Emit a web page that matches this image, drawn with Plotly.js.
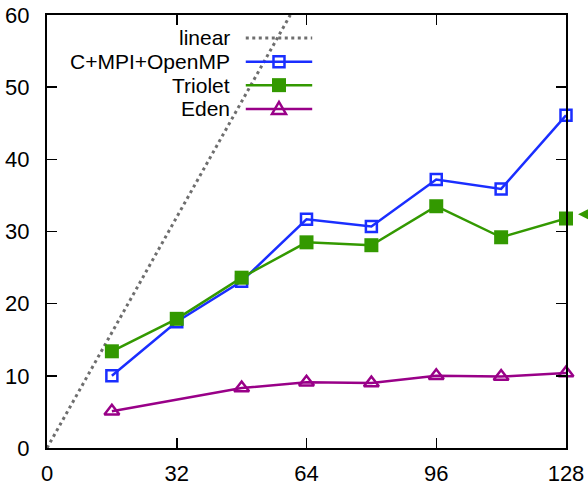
<!DOCTYPE html>
<html>
<head>
<meta charset="utf-8">
<script src="https://cdn.plot.ly/plotly-3.0.1.min.js"></script>
<style>html,body{margin:0;padding:0;background:#fff;}#chart{width:588px;height:485px;}</style>
</head>
<body>
<div id="chart"></div>
<script>
// ---- data ----
const seriesNames = ["linear", "C+MPI+OpenMP", "Triolet", "Eden"];
const linearX = [0, 60];
const linearY = [0, 60];
const coresX = [16, 32, 48, 64, 80, 96, 112, 128];
const mpiY = [10.0, 17.5, 23.1, 31.7, 30.7, 37.2, 35.9, 46.1];
const trioletY = [13.4, 17.9, 23.6, 28.5, 28.1, 33.5, 29.2, 31.8];
const edenX = [16, 48, 64, 80, 96, 112, 128];
const edenY = [5.1, 8.3, 9.1, 9.0, 10.0, 9.9, 10.4];
const pointerX = [133.2];
const pointerY = [32.4];
const xTicks = [0, 32, 64, 96, 128];
const yTicks = [0, 10, 20, 30, 40, 50, 60];
const xRange = [0, 128];
const yRange = [0, 60];

const cLinear = "#6e6e6e", cMpi = "#1a2eff", cTri = "#339900", cEden = "#990088";
const font = "Liberation Sans, Arial, Helvetica, sans-serif";
const fs = 21;

const traces = [
  {x: linearX, y: linearY, mode: "lines", name: seriesNames[0],
   line: {color: cLinear, width: 3, dash: "3px,3.5px"}},
  {x: coresX, y: mpiY, mode: "lines+markers", name: seriesNames[1], cliponaxis: false,
   line: {color: cMpi, width: 2.5},
   marker: {symbol: "square-open", size: 11, color: cMpi, line: {width: 2.5, color: cMpi}}},
  {x: coresX, y: trioletY, mode: "lines+markers", name: seriesNames[2], cliponaxis: false,
   line: {color: cTri, width: 2.5},
   marker: {symbol: "square", size: 14, color: cTri}},
  {x: edenX, y: edenY, mode: "lines+markers", name: seriesNames[3], cliponaxis: false,
   line: {color: cEden, width: 2.5},
   marker: {symbol: "triangle-up-open", size: 13, color: cEden, line: {width: 2.5, color: cEden}}}
];

// custom gnuplot-style key: text right-aligned, sample on the right
const keyTextX = 0.357, keyL = 0.383, keyR = 0.511, keyM = 0.447;
const keyRows = [0.947, 0.892, 0.838, 0.783];
const keyColors = [cLinear, cMpi, cTri, cEden];
const annotations = seriesNames.map((n, i) => ({
  xref: "paper", yref: "paper", x: keyTextX, y: keyRows[i], xanchor: "right", yanchor: "middle",
  text: n, showarrow: false, font: {family: font, size: fs, color: "#000"}
}));
const shapes = [];
seriesNames.forEach((n, i) => {
  shapes.push({type: "line", xref: "paper", yref: "paper", x0: keyL, x1: keyR, y0: keyRows[i], y1: keyRows[i],
    line: {color: keyColors[i], width: i === 0 ? 3 : 2.5, dash: i === 0 ? "3px,3.5px" : "solid"}});
});
shapes.push({type: "rect", xref: "paper", yref: "paper", xsizemode: "pixel", ysizemode: "pixel",
  xanchor: keyM, yanchor: keyRows[1], x0: -5.5, x1: 5.5, y0: -5.5, y1: 5.5,
  line: {color: cMpi, width: 2.5}, fillcolor: "rgba(0,0,0,0)"});
shapes.push({type: "rect", xref: "paper", yref: "paper", xsizemode: "pixel", ysizemode: "pixel",
  xanchor: keyM, yanchor: keyRows[2], x0: -7, x1: 7, y0: -7, y1: 7,
  line: {color: cTri, width: 0}, fillcolor: cTri});
shapes.push({type: "path", xref: "paper", yref: "paper", xsizemode: "pixel", ysizemode: "pixel",
  xanchor: keyM, yanchor: keyRows[3], path: "M -7,-5 L 7,-5 L 0,7 Z",
  line: {color: cEden, width: 2.5}, fillcolor: "rgba(0,0,0,0)"});
// pointer marker beyond the right edge of the axes (x converted to paper, since it lies outside the x range)
pointerX.forEach((px, i) => shapes.push({
  type: "path", xref: "paper", yref: "y", xsizemode: "pixel", ysizemode: "pixel",
  xanchor: (px - xRange[0]) / (xRange[1] - xRange[0]), yanchor: pointerY[i],
  path: "M -9,0 L 9,9 L 9,-9 Z", line: {width: 0, color: cTri}, fillcolor: cTri
}));

const axisCommon = {
  showline: true, linecolor: "#000", linewidth: 2, mirror: "ticks",
  ticks: "inside", ticklen: 10, tickwidth: 1.5, tickcolor: "#000",
  showgrid: false, zeroline: false,
  tickfont: {family: font, size: fs + 1, color: "#000"}
};

const layout = {
  width: 588, height: 485,
  margin: {l: 47, r: 22, t: 15, b: 37},
  paper_bgcolor: "#ffffff", plot_bgcolor: "#ffffff",
  showlegend: false,
  xaxis: Object.assign({}, axisCommon, {range: xRange, tickvals: xTicks, ticktext: xTicks.map(String), ticklabelstandoff: 5}),
  yaxis: Object.assign({}, axisCommon, {range: yRange, tickvals: yTicks, ticktext: yTicks.map(String), ticklabelstandoff: 11}),
  annotations: annotations,
  shapes: shapes
};

Plotly.newPlot("chart", traces, layout, {displayModeBar: false, staticPlot: true});
</script>
</body>
</html>
